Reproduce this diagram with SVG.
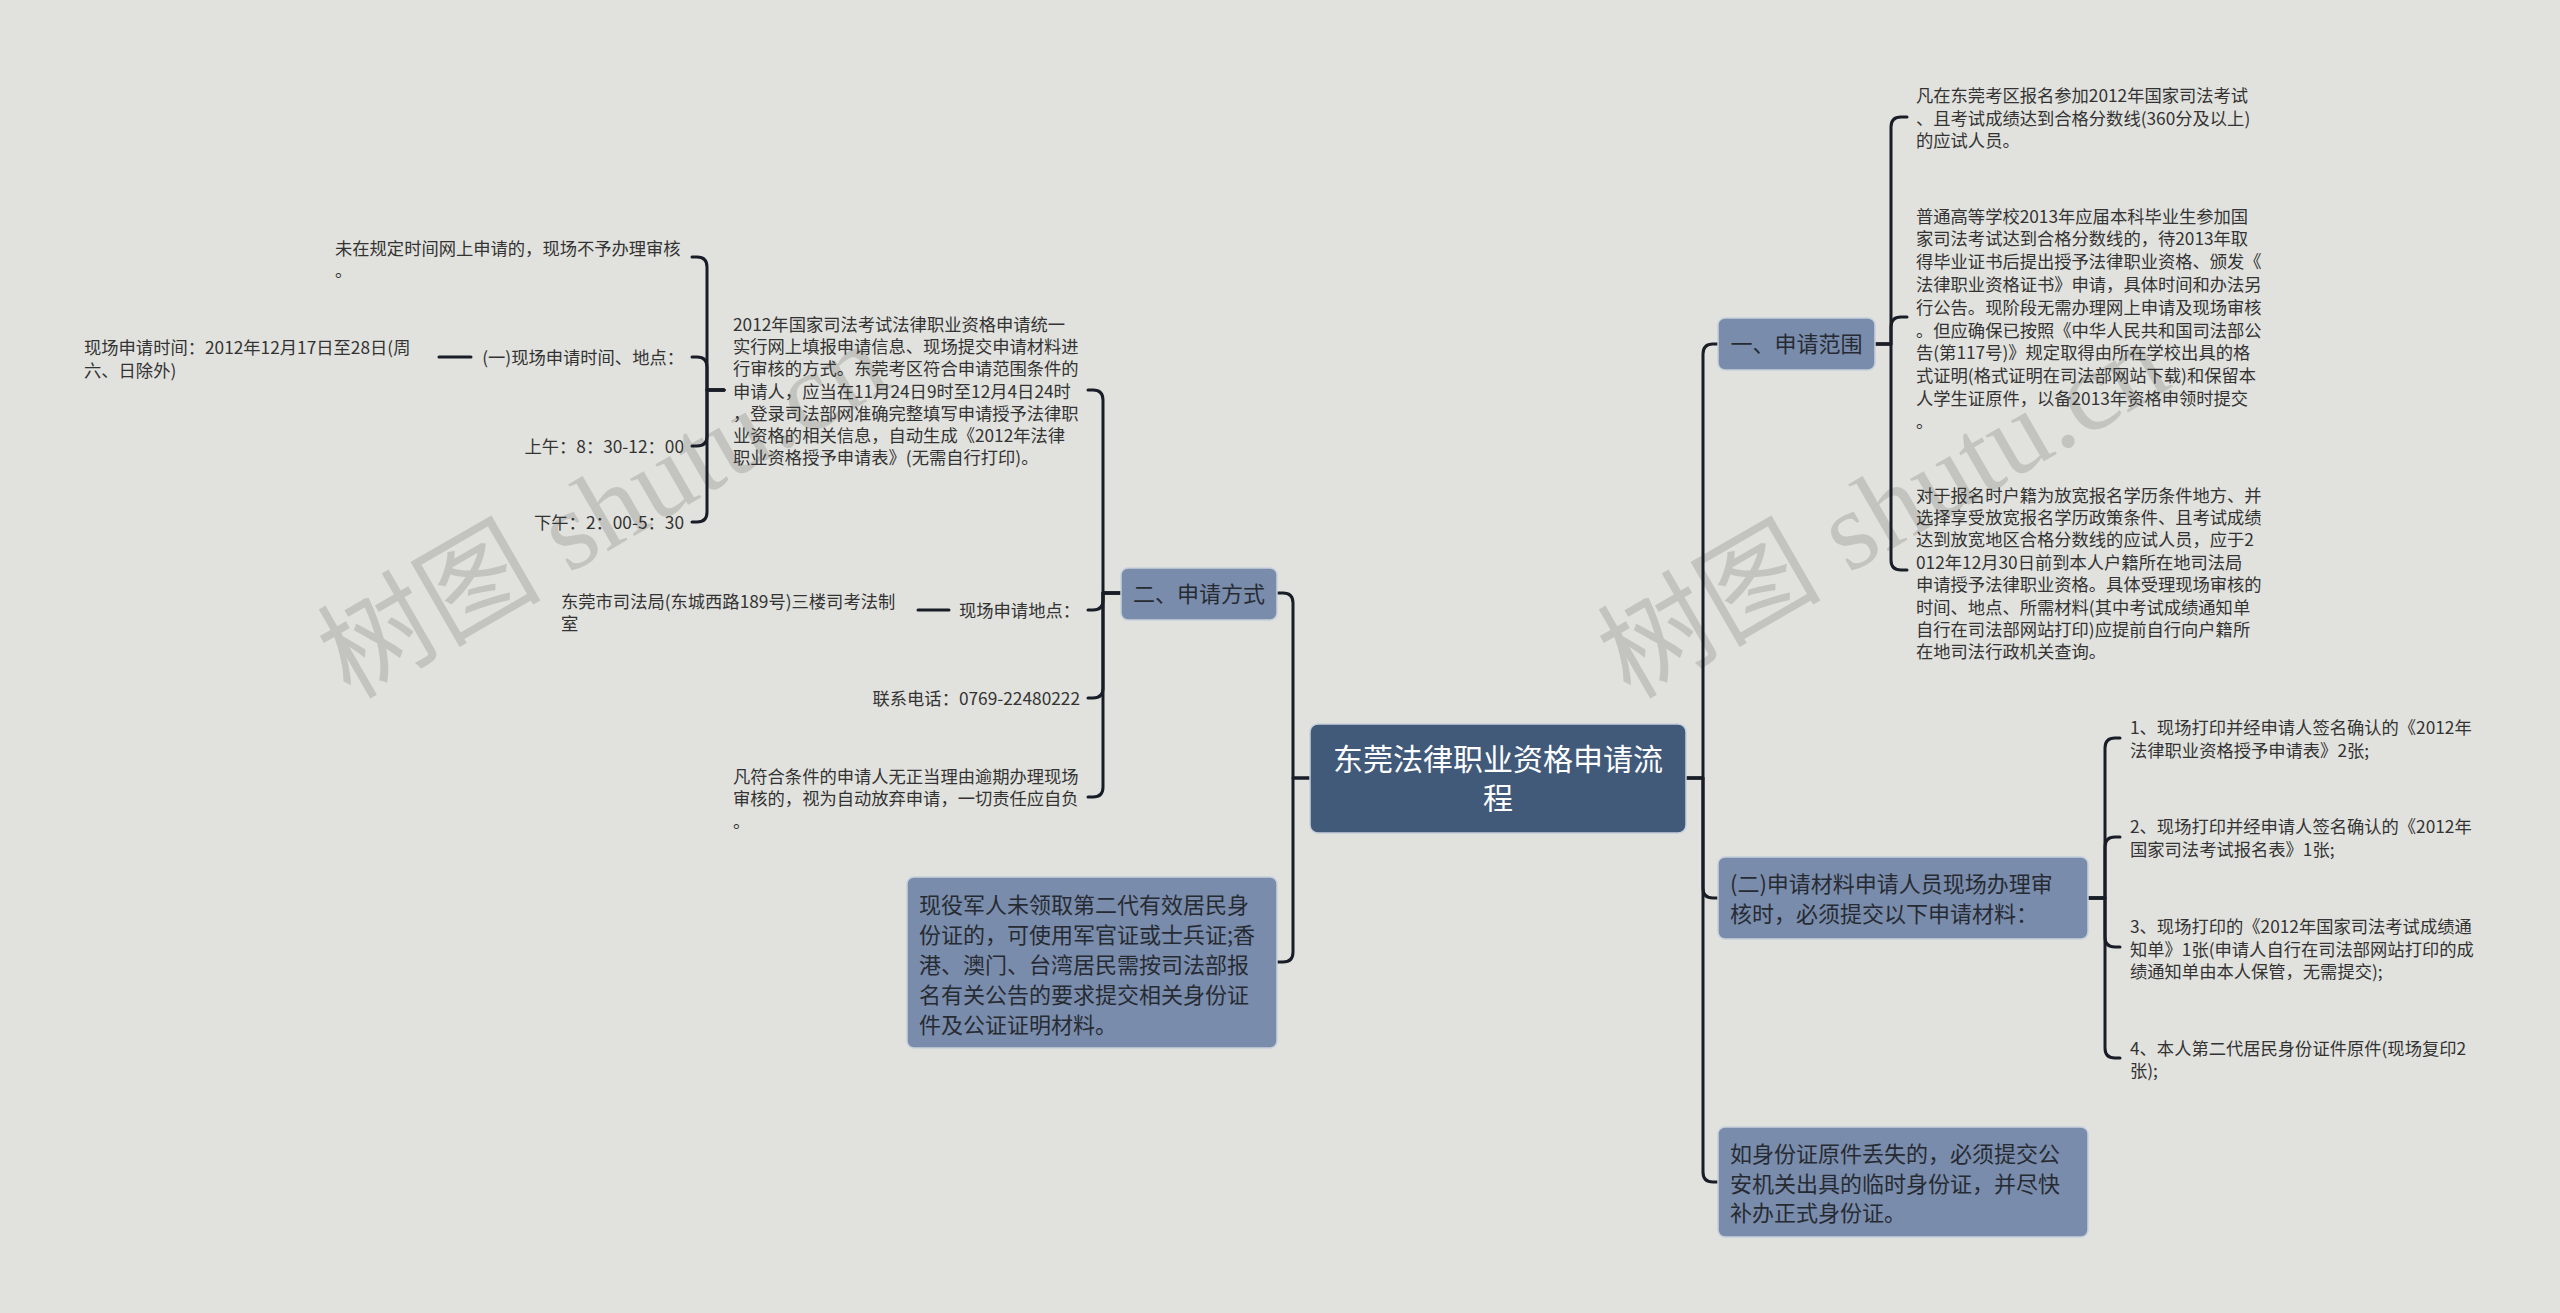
<svg xmlns="http://www.w3.org/2000/svg" width="2560" height="1313" viewBox="0 0 2560 1313">
<style>
text{font-family:"Noto Sans CJK SC","Noto Sans",sans-serif;}
.wm{font-family:"Liberation Serif","Noto Sans CJK SC",serif;font-size:112px;fill:#c3c4c0;}
.leaf{font-size:17.3px;fill:#333333;}
.box{fill:#7a8cab;stroke:#c8d0db;stroke-width:1.5;}
.root{fill:#415a7a;stroke:#c8d0db;stroke-width:1.5;}
.bt{font-size:22px;fill:#262b33;}
.rt{font-size:30px;fill:#ffffff;}
.c{fill:none;stroke:#191d27;stroke-width:3;stroke-linecap:round;stroke-linejoin:round;}
</style>
<rect width="2560" height="1313" fill="#e1e2de"/>
<g id="watermarks">
<text class="wm" transform="translate(350,700) rotate(-30)">树图 shutu.cn</text>
<text class="wm" transform="translate(1630,700) rotate(-30)">树图 shutu.cn</text>
</g>
<g id="connectors">
<path class="c" d="M1686 778H1703V354Q1703 344 1713 344H1718"/>
<path class="c" d="M1686 778H1703V888Q1703 898 1713 898H1718"/>
<path class="c" d="M1686 778H1703V1172Q1703 1182 1713 1182H1718"/>
<path class="c" d="M1310 778H1293V603Q1293 593 1283 593H1277"/>
<path class="c" d="M1310 778H1293V952Q1293 962 1283 962H1277"/>
<path class="c" d="M1875 344H1891V127Q1891 117 1901 117H1907"/>
<path class="c" d="M1875 344H1891V327Q1891 317 1901 317H1907"/>
<path class="c" d="M1875 344H1891V560Q1891 570 1901 570H1907"/>
<path class="c" d="M2088 898H2105V748Q2105 738 2115 738H2120"/>
<path class="c" d="M2088 898H2105V847Q2105 837 2115 837H2120"/>
<path class="c" d="M2088 898H2105V937Q2105 947 2115 947H2120"/>
<path class="c" d="M2088 898H2105V1048Q2105 1058 2115 1058H2120"/>
<path class="c" d="M1121 593H1103V400Q1103 390 1093 390H1088"/>
<path class="c" d="M1121 593H1103V600Q1103 610 1093 610H1088"/>
<path class="c" d="M1121 593H1103V688Q1103 698 1093 698H1088"/>
<path class="c" d="M1121 593H1103V787Q1103 797 1093 797H1088"/>
<path class="c" d="M724 390H707V267Q707 257 697 257H692"/>
<path class="c" d="M724 390H707V367Q707 357 697 357H692"/>
<path class="c" d="M724 390H707V436Q707 446 697 446H692"/>
<path class="c" d="M724 390H707V512Q707 522 697 522H692"/>
<path class="c" d="M471 357H439"/>
<path class="c" d="M949 610H918"/>
</g>
<g id="root">
<rect class="root" x="1310" y="724" width="376" height="109" rx="8"/>
<text class="rt" x="1498" y="770" text-anchor="middle">东莞法律职业资格申请流</text>
<text class="rt" x="1498" y="809" text-anchor="middle">程</text>
</g>
<g id="n-scope">
<rect class="box" x="1718" y="318" width="157" height="52" rx="7"/>
<text class="bt" x="1796.5" y="352" text-anchor="middle">一、申请范围</text>
</g>
<g id="n-scope-1">
<text class="leaf" x="1916" y="102">凡在东莞考区报名参加2012年国家司法考试</text>
<text class="leaf" x="1916" y="124.6">、且考试成绩达到合格分数线(360分及以上)</text>
<text class="leaf" x="1916" y="147.2">的应试人员。</text>
</g>
<g id="n-scope-2">
<text class="leaf" x="1916" y="222.6">普通高等学校2013年应届本科毕业生参加国</text>
<text class="leaf" x="1916" y="245.4">家司法考试达到合格分数线的，待2013年取</text>
<text class="leaf" x="1916" y="268.2">得毕业证书后提出授予法律职业资格、颁发《</text>
<text class="leaf" x="1916" y="291">法律职业资格证书》申请，具体时间和办法另</text>
<text class="leaf" x="1916" y="313.8">行公告。现阶段无需办理网上申请及现场审核</text>
<text class="leaf" x="1916" y="336.6">。但应确保已按照《中华人民共和国司法部公</text>
<text class="leaf" x="1916" y="359.4">告(第117号)》规定取得由所在学校出具的格</text>
<text class="leaf" x="1916" y="382.2">式证明(格式证明在司法部网站下载)和保留本</text>
<text class="leaf" x="1916" y="405">人学生证原件，以备2013年资格申领时提交</text>
<text class="leaf" x="1916" y="427.8">。</text>
</g>
<g id="n-scope-3">
<text class="leaf" x="1916" y="501.6">对于报名时户籍为放宽报名学历条件地方、并</text>
<text class="leaf" x="1916" y="524">选择享受放宽报名学历政策条件、且考试成绩</text>
<text class="leaf" x="1916" y="546.4">达到放宽地区合格分数线的应试人员，应于2</text>
<text class="leaf" x="1916" y="568.8">012年12月30日前到本人户籍所在地司法局</text>
<text class="leaf" x="1916" y="591.2">申请授予法律职业资格。具体受理现场审核的</text>
<text class="leaf" x="1916" y="613.6">时间、地点、所需材料(其中考试成绩通知单</text>
<text class="leaf" x="1916" y="636">自行在司法部网站打印)应提前自行向户籍所</text>
<text class="leaf" x="1916" y="658.4">在地司法行政机关查询。</text>
</g>
<g id="n-materials">
<rect class="box" x="1718" y="857" width="370" height="82" rx="7"/>
<text class="bt" x="1730" y="892">(二)申请材料申请人员现场办理审</text>
<text class="bt" x="1730" y="922">核时，必须提交以下申请材料：</text>
</g>
<g id="n-mat-1">
<text class="leaf" x="2130" y="734.3">1、现场打印并经申请人签名确认的《2012年</text>
<text class="leaf" x="2130" y="756.6">法律职业资格授予申请表》2张;</text>
</g>
<g id="n-mat-2">
<text class="leaf" x="2130" y="833.3">2、现场打印并经申请人签名确认的《2012年</text>
<text class="leaf" x="2130" y="855.6">国家司法考试报名表》1张;</text>
</g>
<g id="n-mat-3">
<text class="leaf" x="2130" y="933.3">3、现场打印的《2012年国家司法考试成绩通</text>
<text class="leaf" x="2130" y="955.6">知单》1张(申请人自行在司法部网站打印的成</text>
<text class="leaf" x="2130" y="977.9">绩通知单由本人保管，无需提交);</text>
</g>
<g id="n-mat-4">
<text class="leaf" x="2130" y="1054.6">4、本人第二代居民身份证件原件(现场复印2</text>
<text class="leaf" x="2130" y="1076.9">张);</text>
</g>
<g id="n-lost">
<rect class="box" x="1718" y="1127" width="370" height="110" rx="7"/>
<text class="bt" x="1730" y="1162">如身份证原件丢失的，必须提交公</text>
<text class="bt" x="1730" y="1191.5">安机关出具的临时身份证，并尽快</text>
<text class="bt" x="1730" y="1221">补办正式身份证。</text>
</g>
<g id="n-method">
<rect class="box" x="1121" y="568" width="156" height="52" rx="7"/>
<text class="bt" x="1199" y="602" text-anchor="middle">二、申请方式</text>
</g>
<g id="n-military">
<rect class="box" x="907" y="877" width="370" height="171" rx="7"/>
<text class="bt" x="919" y="913.4">现役军人未领取第二代有效居民身</text>
<text class="bt" x="919" y="943.2">份证的，可使用军官证或士兵证;香</text>
<text class="bt" x="919" y="973">港、澳门、台湾居民需按司法部报</text>
<text class="bt" x="919" y="1002.8">名有关公告的要求提交相关身份证</text>
<text class="bt" x="919" y="1032.6">件及公证证明材料。</text>
</g>
<g id="n-online">
<text class="leaf" x="733" y="330.6">2012年国家司法考试法律职业资格申请统一</text>
<text class="leaf" x="733" y="352.9">实行网上填报申请信息、现场提交申请材料进</text>
<text class="leaf" x="733" y="375.2">行审核的方式。东莞考区符合申请范围条件的</text>
<text class="leaf" x="733" y="397.5">申请人，应当在11月24日9时至12月4日24时</text>
<text class="leaf" x="733" y="419.8">，登录司法部网准确完整填写申请授予法律职</text>
<text class="leaf" x="733" y="442.1">业资格的相关信息，自动生成《2012年法律</text>
<text class="leaf" x="733" y="464.4">职业资格授予申请表》(无需自行打印)。</text>
</g>
<g id="n-late">
<text class="leaf" x="335" y="254.6">未在规定时间网上申请的，现场不予办理审核</text>
<text class="leaf" x="335" y="277">。</text>
</g>
<g id="n-timeplace">
<text class="leaf" x="684" y="363.6" text-anchor="end">(一)现场申请时间、地点：</text>
</g>
<g id="n-time">
<text class="leaf" x="84" y="353.6">现场申请时间：2012年12月17日至28日(周</text>
<text class="leaf" x="84" y="376.6">六、日除外)</text>
</g>
<g id="n-am">
<text class="leaf" x="684" y="452.6" text-anchor="end">上午：8：30-12：00</text>
</g>
<g id="n-pm">
<text class="leaf" x="684" y="528.6" text-anchor="end">下午：2：00-5：30</text>
</g>
<g id="n-place">
<text class="leaf" x="1080" y="616.6" text-anchor="end">现场申请地点：</text>
</g>
<g id="n-address">
<text class="leaf" x="561" y="608">东莞市司法局(东城西路189号)三楼司考法制</text>
<text class="leaf" x="561" y="630">室</text>
</g>
<g id="n-phone">
<text class="leaf" x="1080" y="704.6" text-anchor="end">联系电话：0769-22480222</text>
</g>
<g id="n-overdue">
<text class="leaf" x="733" y="783.1">凡符合条件的申请人无正当理由逾期办理现场</text>
<text class="leaf" x="733" y="805.4">审核的，视为自动放弃申请，一切责任应自负</text>
<text class="leaf" x="733" y="827.7">。</text>
</g>
</svg>
